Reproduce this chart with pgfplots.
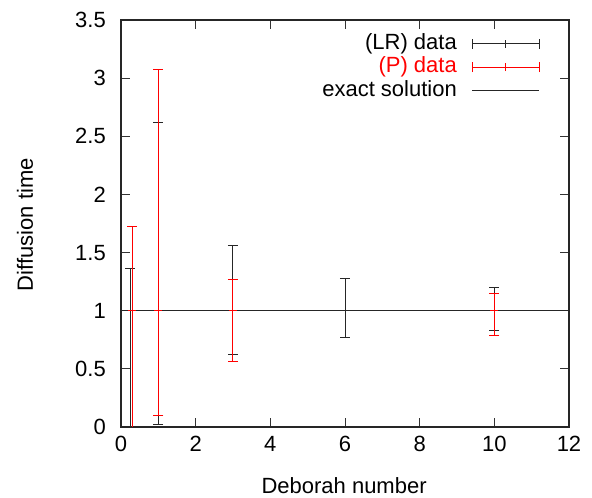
\documentclass[border=0pt]{standalone}
\usepackage{pgfplots}
\pgfplotsset{compat=1.18}
\usepackage{fontspec}
\setmainfont{Liberation Sans}
\pgfplotstableread{
x    y  ep    em
0.25 1  0.36  1.30
1    1  1.615 0.98
3    1  0.557 0.373
6    1  0.273 0.23
10   1  0.20  0.17
}\lrdata
\pgfplotstableread{
x    y  ep    em
0.3  1  0.72  1.50
1    1  2.075 0.905
3    1  0.265 0.436
10   1  0.144 0.215
}\pdata
\begin{document}
\begin{tikzpicture}
\path[use as bounding box] (-121pt,-71pt) rectangle (471pt,427pt);
\begin{axis}[
  scale only axis, width=448pt, height=407pt,
  xmin=0, xmax=12, ymin=0, ymax=3.5,
  xtick={0,2,4,6,8,10,12},
  ytick={0,0.5,1,1.5,2,2.5,3,3.5},
  tick align=inside, major tick length=9pt,
  tick style={line width=1pt, black!80},
  axis line style={line width=1.2pt, black!85},
  /pgf/number format/assume math mode=true,
  font=\fontsize{22}{24}\selectfont,
  yticklabel style={inner sep=0pt, anchor=east, xshift=-15pt},
  xticklabel style={inner sep=0pt, anchor=north, yshift=-9pt},
  every axis y label/.style={at={(axis description cs:-0.214,0.497)}, rotate=90, anchor=center},
  every axis x label/.style={at={(axis description cs:0.498,-0.143)}, anchor=center},
  xlabel={Deborah number},
  ylabel={Diffusion time},
  legend cell align=right,
  legend plot pos=right,
  legend style={at={(0.942,0.9705)}, anchor=north east, draw=none, fill=none,
    nodes={inner sep=0pt, text height=15pt, text depth=4pt},
    row sep=4.5pt, column sep=15pt, font=\fontsize{22}{24}\selectfont},
]
\addplot[black!85, line width=1pt, only marks, mark=+, mark size=4pt,
  mark options={line width=1pt},
  legend image code/.code={\draw[black!85,line width=1pt] (0pt,0pt)--(67pt,0pt)
     (0pt,-5pt)--(0pt,5pt) (67pt,-5pt)--(67pt,5pt) (33.5pt,-4pt)--(33.5pt,4pt);},
  error bars/.cd, y dir=both, y explicit,
  error bar style={line width=1pt, black!85},
  error mark options={rotate=90, mark size=5pt, line width=1pt, black!85}]
  table[x=x, y=y, y error plus=ep, y error minus=em] {\lrdata};
\addlegendentry{(LR) data}
\addplot[red, line width=1pt, only marks, mark=+, mark size=4pt,
  mark options={line width=1pt},
  legend image code/.code={\draw[red,line width=1pt] (0pt,0pt)--(67pt,0pt)
     (0pt,-5pt)--(0pt,5pt) (67pt,-5pt)--(67pt,5pt) (33.5pt,-4pt)--(33.5pt,4pt);},
  error bars/.cd, y dir=both, y explicit,
  error bar style={line width=1pt, red},
  error mark options={rotate=90, mark size=5pt, line width=1pt, red}]
  table[x=x, y=y, y error plus=ep, y error minus=em] {\pdata};
\addlegendentry{\textcolor{red}{(P) data}}
\addplot[black!85, line width=0.9pt, no marks,
  legend image code/.code={\draw[black!85,line width=0.9pt] (0pt,0pt)--(67pt,0pt);}]
  coordinates {(0,1) (12,1)};
\addlegendentry{exact solution}
\end{axis}
\end{tikzpicture}
\end{document}
